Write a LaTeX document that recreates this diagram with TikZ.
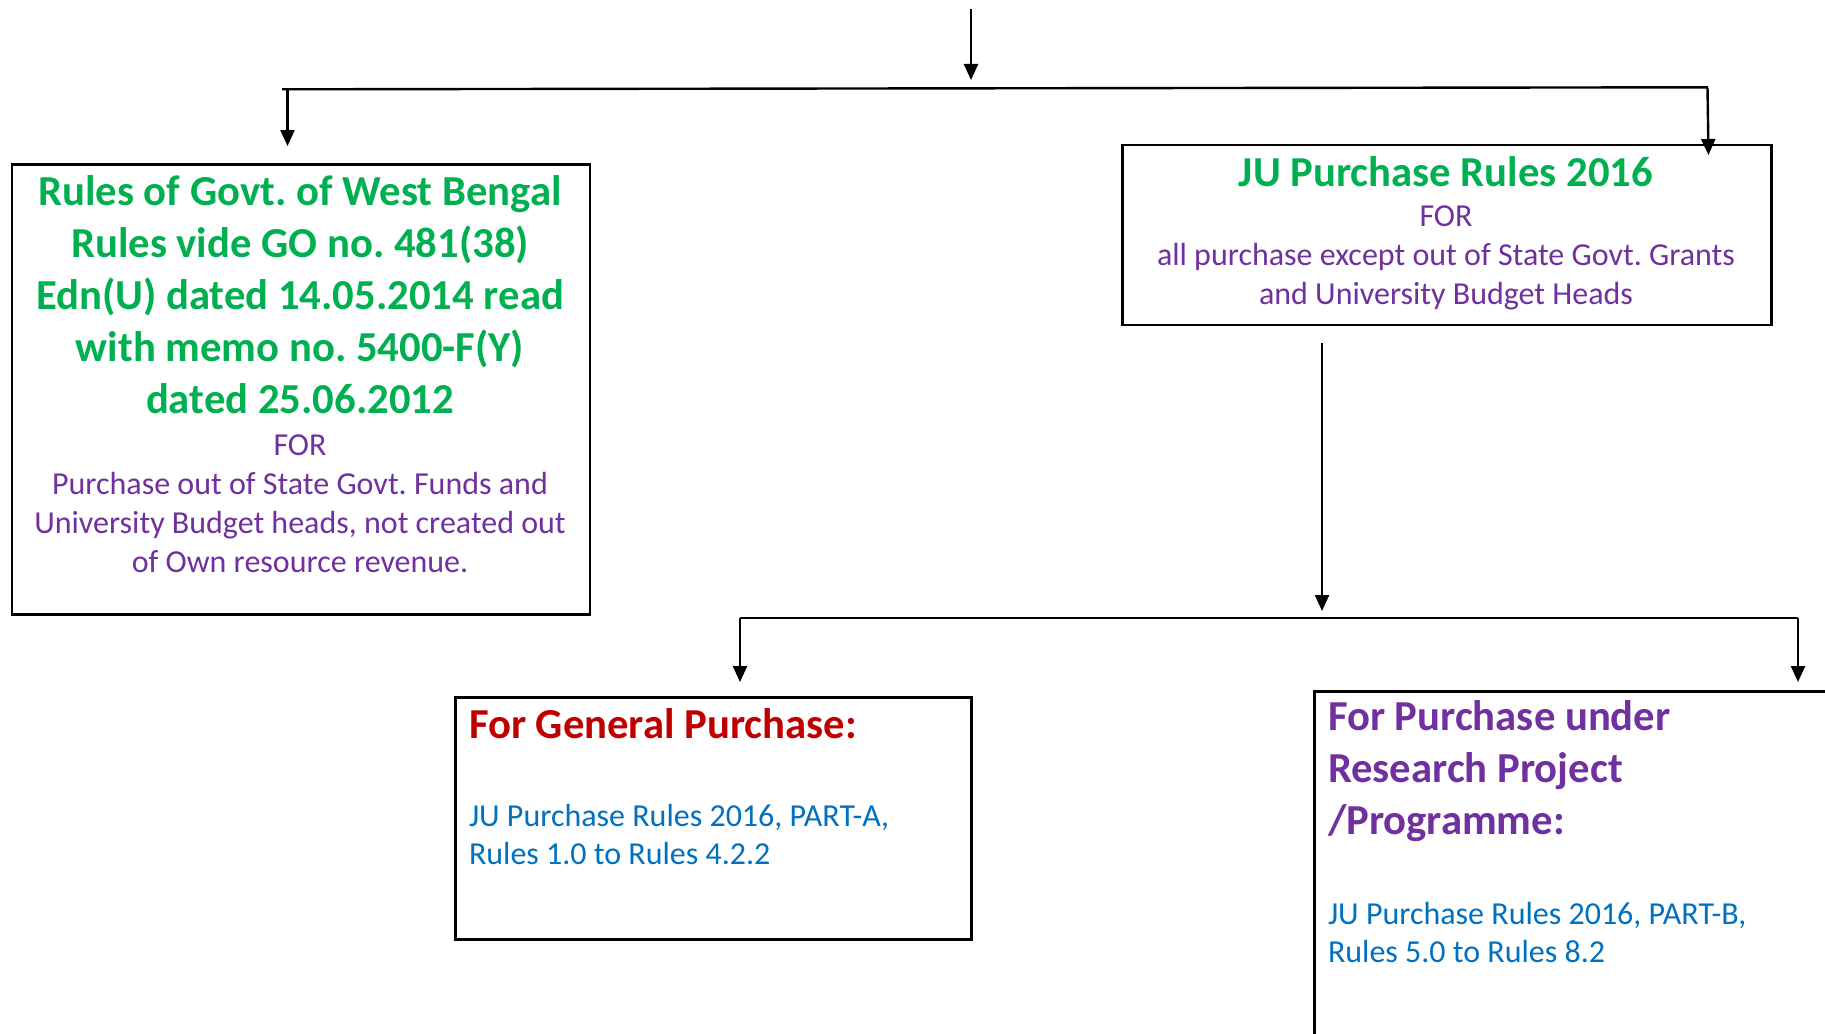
\documentclass[tikz,border=0pt]{standalone}
\usepackage{fontspec}
\setmainfont{Carlito}
\usetikzlibrary{arrows.meta}
\definecolor{wgreen}{HTML}{00B050}
\definecolor{wpurple}{HTML}{7030A0}
\definecolor{wred}{HTML}{C00000}
\definecolor{wblue}{HTML}{0070C0}
\frenchspacing
\tikzset{
  boxstyle/.style={draw=black, line width=2.5pt, inner sep=0pt, anchor=north west},
  conn/.style={draw=black, line width=2.4pt},
  arr/.style={conn, -{Triangle[length=16pt,width=14pt]}},
  txt/.style={inner sep=0pt, outer sep=0pt},
  greenbig/.style={txt, text=wgreen, font=\fontsize{42.7}{52}\selectfont\bfseries, align=center},
  purplesmall/.style={txt, text=wpurple, font=\fontsize{32}{39}\selectfont, align=center},
  redbig/.style={txt, text=wred, font=\fontsize{42.7}{52}\selectfont\bfseries, align=left},
  purplebig/.style={txt, text=wpurple, font=\fontsize{42.7}{52}\selectfont\bfseries, align=left},
  bluesmall/.style={txt, text=wblue, font=\fontsize{32}{38}\selectfont, align=left},
}
\begin{document}
\begin{tikzpicture}[x=1pt,y=-1pt]
\clip (0,0) rectangle (1825,1033);
\fill[white] (0,0) rectangle (1825,1033);
% boxes
\node[boxstyle, minimum width=578pt, minimum height=450pt] (wb) at (10.5,163) {};
\node[boxstyle, minimum width=649pt, minimum height=180pt] (ju) at (1121,143.5) {};
\node[boxstyle, minimum width=516pt, minimum height=242pt] (gp) at (454,696) {};
\node[boxstyle, minimum width=700pt, minimum height=500pt] (rp) at (1313,690) {};
% texts
\node[greenbig] (wbt) at (300,295) {Rules of Govt. of West Bengal\\Rules vide GO no. 481(38)\\Edn(U) dated 14.05.2014 read\\with memo no. 5400-F(Y)\\dated 25.06.2012};
\node[purplesmall] (wbf) at (300,503.5) {FOR\\Purchase out of State Govt. Funds and\\University Budget heads, not created out\\of Own resource revenue.};
\node[greenbig] (jut) at (1446,172) {JU Purchase Rules 2016};
\node[purplesmall] (juf) at (1446,258) {FOR\\all purchase except out of State Govt. Grants\\and University Budget Heads};
\node[redbig, anchor=west] (gpt) at (469,724) {For General Purchase:};
\node[bluesmall, anchor=west] (gpr) at (469,835) {JU Purchase Rules 2016, PART-A,\\Rules 1.0 to Rules 4.2.2};
\node[purplebig, anchor=west] (rpt) at (1328,771) {For Purchase under\\Research Project\\/Programme:};
\node[bluesmall, anchor=west] (rpr) at (1328,933) {JU Purchase Rules 2016, PART-B,\\Rules 5.0 to Rules 8.2};
% connector points
\coordinate (top) at (971,9);
\coordinate (topend) at (971,80);
\coordinate (busL) at (282,89.3);
\coordinate (busR) at (1708,87.3);
\coordinate (lstart) at (287.5,90);
\coordinate (lend) at (287.5,146);
\coordinate (rstart) at (1707.5,88);
\coordinate (rend) at (1708.5,155);
\coordinate (mstart) at (1322,343);
\coordinate (mend) at (1322,611);
\coordinate (bus2L) at (740,618);
\coordinate (bus2R) at (1798,618);
\coordinate (gend) at (740,682);
\coordinate (pend) at (1798,682);
% connectors
\draw[arr] (top) -- (topend);
\draw[conn] (busL) -- (busR);
\draw[arr] (lstart) -- (lend);
\draw[arr] (rstart) -- (rend);
\draw[arr] (mstart) -- (mend);
\draw[conn] (bus2L) -- (bus2R);
\draw[arr] (bus2L) -- (gend);
\draw[arr] (bus2R) -- (pend);
\end{tikzpicture}
\end{document}
